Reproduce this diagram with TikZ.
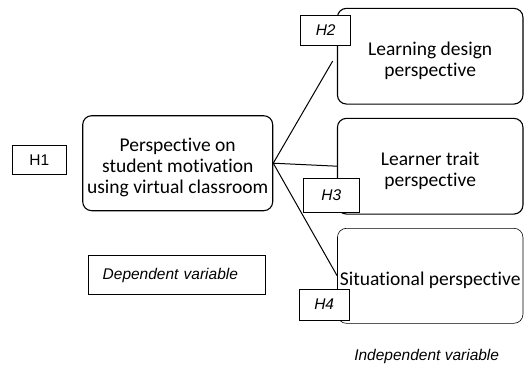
\documentclass[tikz,border=0pt]{standalone}
\usepackage{fontspec}
\setmainfont{Carlito}[Ligatures=CommonOff]
\newfontfamily\arialfont{Liberation Sans}
\usepackage{tikz}
\tikzset{every picture/.style={line width=0.75pt}}

\begin{document}
\begin{tikzpicture}[x=1pt,y=-1pt,
  persp/.style={draw, rounded corners=9pt, line width=1.1pt, inner sep=0pt},
  persptext/.style={align=center, inner sep=0pt, yshift=-4.5pt,
    font=\fontsize{19.5}{21}\selectfont},
  hyp/.style={draw, fill=white, line width=0.8pt, inner sep=0pt,
    font=\arialfont\fontsize{15.5}{18}\selectfont\itshape}]
\path[use as bounding box] (0,0) rectangle (528,367);

%Shape: Rounded Rectangle (dependent side)
\node [persp, minimum width=190pt, minimum height=95pt] (motiv) at (177.7,163.2) {};
\node [persptext] (motivtxt) at (motiv.center) {Perspective on\\student motivation\\using virtual classroom};
%Shape: Rounded Rectangles (independent side)
\node [persp, minimum width=185.5pt, minimum height=95.7pt] (design) at (430.2,56.2) {};
\node [persptext] (designtxt) at (design.center) {Learning design\\perspective};
\node [persp, minimum width=185.5pt, minimum height=95.7pt] (trait) at (430.2,166.2) {};
\node [persptext] (traittxt) at (trait.center) {Learner trait\\perspective};
\node [persp, line width=0.6pt, minimum width=185.5pt, minimum height=95pt] (situ) at (430.2,275.8) {};
\node [persptext] (situtxt) at (situ.center) {Situational perspective};

%Straight Lines
\coordinate (tipH2) at (332.7,61);
\draw [line width=1pt] (motiv.east) -- (tipH2) ;
\draw [line width=1pt] (motiv.east) -- (trait.west) ;
\draw [line width=1pt] (motiv.east) -- (situ.west) ;

%Shape: Rectangle
\node [hyp, font=\arialfont\fontsize{15.5}{18}\selectfont, minimum width=54pt, minimum height=29.4pt] (h1) at (39.3,160) {H1};
\node [hyp, minimum width=50pt, minimum height=30pt] (h2) at (325.7,30) {H2};
\node [hyp, minimum width=56pt, minimum height=34pt] (h3) at (331.3,195.3) {H3};
\node [hyp, minimum width=49.7pt, minimum height=31pt] (h4) at (324.2,304.5) {H4};

% Text Node
\node [hyp, inner xsep=14.4pt, text width=148.6pt, align=left, minimum height=39.4pt] (dep) at (177,275) {Dependent variable};
% Text Node
\node [font=\arialfont\fontsize{15.5}{18}\selectfont\itshape, inner sep=0pt] (indep) at (426.7,356) {Independent variable};

\end{tikzpicture}
\end{document}
